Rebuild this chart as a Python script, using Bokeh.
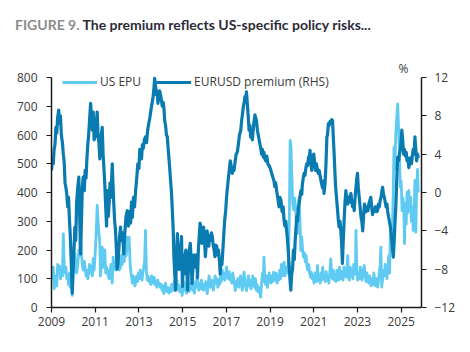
from bokeh.plotting import figure
from bokeh.models import (Range1d, LinearAxis, FixedTicker, Legend, LegendItem, Label, Div)
from bokeh.layouts import column
from bokeh.embed import file_html
from bokeh.resources import INLINE

# ---------------- data ----------------
title_prefix = "FIGURE 9."
title_text = "The premium reflects US-specific policy risks..."
series_names = ["US EPU", "EURUSD premium (RHS)"]
x_ticks = [2009, 2011, 2013, 2015, 2017, 2019, 2021, 2023, 2025]
left_ticks = [0, 100, 200, 300, 400, 500, 600, 700, 800]
right_ticks = [-12, -8, -4, 0, 4, 8, 12]

# EURUSD premium, % (right axis): decimal year, value
prem_t = [2009.00, 2009.04, 2009.08, 2009.12, 2009.16, 2009.20, 2009.24, 2009.28, 2009.33, 2009.37,
          2009.41, 2009.45, 2009.50, 2009.54, 2009.58, 2009.62, 2009.66, 2009.70, 2009.74, 2009.78,
          2009.82, 2009.86, 2009.90, 2009.95, 2009.99, 2010.03, 2010.07, 2010.11, 2010.15, 2010.20,
          2010.25, 2010.29, 2010.33, 2010.37, 2010.41, 2010.45, 2010.50, 2010.54, 2010.58, 2010.62,
          2010.66, 2010.70, 2010.74, 2010.79, 2010.83, 2010.87, 2010.91, 2010.95, 2011.00, 2011.04,
          2011.09, 2011.13, 2011.17, 2011.21, 2011.24, 2011.28, 2011.32, 2011.36, 2011.40, 2011.44,
          2011.48, 2011.52, 2011.55, 2011.60, 2011.64, 2011.68, 2011.72, 2011.78, 2011.82, 2011.85,
          2011.89, 2011.93, 2011.97, 2012.00, 2012.04, 2012.08, 2012.12, 2012.16, 2012.20, 2012.25,
          2012.31, 2012.36, 2012.41, 2012.47, 2012.52, 2012.57, 2012.62, 2012.66, 2012.70, 2012.75,
          2012.80, 2012.85, 2012.90, 2012.95, 2013.00, 2013.04, 2013.08, 2013.12, 2013.16, 2013.20,
          2013.25, 2013.30, 2013.35, 2013.40, 2013.45, 2013.50, 2013.55, 2013.60, 2013.65, 2013.69,
          2013.72, 2013.76, 2013.80, 2013.83, 2013.87, 2013.91, 2013.95, 2013.99, 2014.03, 2014.07,
          2014.11, 2014.14, 2014.18, 2014.22, 2014.26, 2014.30, 2014.34, 2014.37, 2014.41, 2014.45,
          2014.49, 2014.53, 2014.57, 2014.60, 2014.64, 2014.68, 2014.72, 2014.76, 2014.80, 2014.84,
          2014.88, 2014.92, 2014.95, 2014.99, 2015.03, 2015.07, 2015.11, 2015.15, 2015.19, 2015.23,
          2015.27, 2015.31, 2015.35, 2015.39, 2015.43, 2015.47, 2015.51, 2015.55, 2015.60, 2015.64,
          2015.68, 2015.72, 2015.76, 2015.80, 2015.84, 2015.88, 2015.92, 2015.96, 2016.00, 2016.04,
          2016.08, 2016.12, 2016.16, 2016.20, 2016.24, 2016.28, 2016.32, 2016.36, 2016.40, 2016.44,
          2016.48, 2016.52, 2016.56, 2016.60, 2016.64, 2016.68, 2016.72, 2016.76, 2016.80, 2016.84,
          2016.88, 2016.92, 2016.97, 2017.01, 2017.05, 2017.10, 2017.14, 2017.18, 2017.22, 2017.27,
          2017.31, 2017.35, 2017.40, 2017.45, 2017.50, 2017.55, 2017.60, 2017.66, 2017.70, 2017.74,
          2017.78, 2017.81, 2017.85, 2017.89, 2017.92, 2017.96, 2018.00, 2018.04, 2018.08, 2018.11,
          2018.15, 2018.19, 2018.23, 2018.27, 2018.31, 2018.34, 2018.38, 2018.42, 2018.46, 2018.50,
          2018.54, 2018.57, 2018.61, 2018.65, 2018.69, 2018.72, 2018.76, 2018.80, 2018.85, 2018.90,
          2018.95, 2019.00, 2019.05, 2019.10, 2019.14, 2019.18, 2019.22, 2019.26, 2019.30, 2019.35,
          2019.41, 2019.45, 2019.50, 2019.55, 2019.60, 2019.64, 2019.68, 2019.72, 2019.76, 2019.79,
          2019.83, 2019.87, 2019.91, 2019.95, 2019.99, 2020.03, 2020.07, 2020.11, 2020.15, 2020.18,
          2020.22, 2020.26, 2020.30, 2020.33, 2020.37, 2020.41, 2020.45, 2020.48, 2020.52, 2020.56,
          2020.60, 2020.64, 2020.68, 2020.72, 2020.76, 2020.79, 2020.83, 2020.87, 2020.91, 2020.95,
          2021.00, 2021.04, 2021.08, 2021.12, 2021.16, 2021.20, 2021.25, 2021.30, 2021.35, 2021.40,
          2021.44, 2021.47, 2021.52, 2021.56, 2021.60, 2021.63, 2021.67, 2021.70, 2021.74, 2021.78,
          2021.82, 2021.86, 2021.90, 2021.94, 2021.97, 2022.00, 2022.04, 2022.09, 2022.13, 2022.16,
          2022.20, 2022.24, 2022.28, 2022.31, 2022.35, 2022.39, 2022.43, 2022.47, 2022.51, 2022.55,
          2022.59, 2022.63, 2022.67, 2022.70, 2022.74, 2022.78, 2022.82, 2022.85, 2022.89, 2022.93,
          2022.97, 2023.00, 2023.04, 2023.08, 2023.12, 2023.16, 2023.20, 2023.24, 2023.28, 2023.32,
          2023.36, 2023.40, 2023.44, 2023.48, 2023.52, 2023.57, 2023.61, 2023.65, 2023.69, 2023.73,
          2023.77, 2023.81, 2023.84, 2023.88, 2023.92, 2023.96, 2024.00, 2024.04, 2024.08, 2024.12,
          2024.15, 2024.19, 2024.23, 2024.27, 2024.31, 2024.35, 2024.38, 2024.42, 2024.46, 2024.50,
          2024.53, 2024.57, 2024.61, 2024.64, 2024.68, 2024.72, 2024.76, 2024.80, 2024.84, 2024.88,
          2024.92, 2024.96, 2025.00, 2025.03, 2025.07, 2025.11, 2025.15, 2025.19, 2025.23, 2025.27,
          2025.31, 2025.35, 2025.39, 2025.43, 2025.47, 2025.51, 2025.55, 2025.59, 2025.63, 2025.67,
          2025.71, 2025.75, 2025.78]
prem_v = [2.3, 3.5, 3.0, 4.5, 5.0, 6.8, 6.2, 7.8, 8.6, 7.2,
          8.0, 6.0, 5.2, 4.0, 3.2, 1.0, 0.5, -0.2, -1.5, -0.5,
          -2.8, -4.5, -7.0, -10.5, -8.0, -6.0, -3.6, -5.0, -1.0, 0.5,
          1.6, -2.5, -6.4, -3.0, 0.5, 1.6, 0.2, 2.3, 1.5, 3.5,
          5.0, 6.0, 7.5, 9.3, 8.0, 6.5, 8.4, 5.5, 5.8, 7.0,
          8.4, 6.0, 5.2, 3.5, 4.7, 6.0, 6.8, 4.0, 2.5, 0.8,
          -1.5, -3.5, 0.2, -2.5, -1.0, 1.0, -0.5, 3.0, 0.5, -1.2,
          -3.0, -4.0, -6.0, -8.0, -7.5, -6.0, -4.5, -3.6, -5.0, -4.2,
          -6.4, -4.0, -2.5, -1.9, -3.5, -2.0, -3.2, -1.0, -2.6, -0.5,
          -1.5, 0.2, 1.5, 3.0, 2.5, 4.5, 4.0, 3.5, 5.0, 4.6,
          5.5, 5.8, 5.2, 6.5, 7.2, 7.8, 8.6, 9.3, 10.0, 11.0,
          11.9, 11.2, 10.2, 10.6, 9.3, 10.0, 10.6, 10.2, 9.6, 9.0,
          9.4, 8.9, 7.5, 7.0, 6.0, 5.8, 4.5, 3.7, 2.5, 1.2,
          0.0, -1.9, -4.0, -6.7, -8.5, -10.2, -6.5, -4.3, -8.0, -6.0,
          -8.0, -5.5, -4.6, -9.8, -7.5, -8.5, -6.5, -6.0, -8.0, -10.2,
          -7.5, -6.0, -5.3, -7.0, -9.5, -8.0, -6.5, -7.5, -7.8, -6.5,
          -8.9, -6.0, -4.5, -3.2, -4.0, -5.3, -4.5, -3.6, -5.0, -6.7,
          -5.5, -4.0, -4.8, -5.6, -4.5, -5.0, -4.2, -4.6, -5.5, -6.0,
          -6.7, -5.5, -5.6, -6.5, -6.0, -7.0, -8.5, -7.0, -7.5, -6.0,
          -4.5, -3.0, -1.9, -0.5, 0.5, 1.6, 2.5, 3.3, 2.8, 2.0,
          2.5, 2.3, 3.2, 4.0, 4.2, 5.0, 6.0, 6.5, 7.5, 8.2,
          9.0, 9.3, 10.0, 9.8, 10.5, 9.3, 8.0, 6.5, 7.0, 5.8,
          6.2, 5.5, 6.5, 7.5, 8.1, 7.8, 7.5, 6.5, 6.0, 5.5,
          5.0, 4.7, 4.0, 4.5, 3.7, 4.2, 3.5, 3.3, 3.8, 3.0,
          2.8, 2.6, 2.2, 1.8, 1.5, 1.2, 0.6, 1.0, 0.2, -0.5,
          -1.5, -0.5, -0.8, -2.0, -1.5, -2.9, -3.5, -3.0, -4.0, -4.7,
          -6.0, -7.5, -9.0, -10.2, -8.5, -8.0, -6.0, -7.0, -5.0, -4.0,
          -2.5, -3.0, -1.5, -1.2, -0.5, 0.2, -0.2, 0.9, 1.5, 2.0,
          1.8, 2.6, 3.0, 2.8, 3.7, 3.5, 4.4, 3.0, 2.3, 3.5,
          4.0, 3.2, 2.3, 3.0, 2.5, 2.0, 2.3, 1.6, 1.0, 0.5,
          1.2, -0.1, 1.0, 3.0, 5.8, 6.0, 7.2, 7.0, 7.4, 7.2,
          7.6, 7.5, 5.5, 3.7, 2.0, 0.6, -0.5, -1.9, -3.0, -3.6,
          -3.0, -4.0, -5.5, -7.4, -5.0, -2.9, -1.0, 0.2, -0.8, -1.2,
          -0.5, -1.0, -0.3, -0.1, -1.0, -1.5, -1.0, -1.9, -0.5, 0.5,
          1.5, 2.0, 0.5, -0.5, -1.5, -2.5, -3.0, -4.0, -2.5, -1.2,
          -1.5, -2.0, -1.6, -1.9, -1.2, -0.8, -0.5, -1.5, -2.3, -1.8,
          -2.0, -1.5, -1.5, -2.0, -1.9, -1.2, -1.5, -0.8, -0.5, 0.2,
          0.55, -0.2, -0.5, -1.0, -1.5, -1.2, -1.9, -2.5, -3.0, -3.5,
          -4.0, -5.0, -6.0, -6.75, -5.0, -3.0, -1.2, 1.5, 3.7, 3.3,
          4.0, 4.5, 5.5, 6.5, 5.5, 4.0, 4.5, 3.8, 4.2, 3.3,
          3.6, 2.6, 3.2, 3.6, 3.0, 3.8, 4.5, 4.0, 5.8, 4.5,
          3.3, 4.0, 3.6]

# US economic policy uncertainty index (left axis): decimal year, value
epu_t = [2009.00, 2009.04, 2009.08, 2009.12, 2009.16, 2009.20, 2009.24, 2009.28, 2009.33, 2009.37,
         2009.41, 2009.45, 2009.50, 2009.54, 2009.58, 2009.62, 2009.66, 2009.70, 2009.74, 2009.78,
         2009.82, 2009.86, 2009.90, 2009.95, 2009.99, 2010.03, 2010.07, 2010.11, 2010.15, 2010.20,
         2010.25, 2010.29, 2010.33, 2010.37, 2010.41, 2010.45, 2010.50, 2010.54, 2010.58, 2010.62,
         2010.66, 2010.70, 2010.74, 2010.79, 2010.83, 2010.87, 2010.91, 2010.95, 2011.00, 2011.04,
         2011.09, 2011.13, 2011.17, 2011.21, 2011.24, 2011.28, 2011.32, 2011.36, 2011.40, 2011.44,
         2011.48, 2011.52, 2011.56, 2011.60, 2011.64, 2011.68, 2011.72, 2011.78, 2011.82, 2011.86,
         2011.90, 2011.94, 2011.98, 2012.02, 2012.06, 2012.10, 2012.16, 2012.20, 2012.24, 2012.28,
         2012.33, 2012.37, 2012.42, 2012.47, 2012.51, 2012.55, 2012.60, 2012.64, 2012.68, 2012.70,
         2012.74, 2012.78, 2012.82, 2012.86, 2012.90, 2012.94, 2012.98, 2013.02, 2013.06, 2013.10,
         2013.14, 2013.18, 2013.22, 2013.26, 2013.30, 2013.34, 2013.38, 2013.42, 2013.46, 2013.50,
         2013.54, 2013.58, 2013.62, 2013.66, 2013.70, 2013.74, 2013.78, 2013.82, 2013.86, 2013.90,
         2013.94, 2013.98, 2014.02, 2014.06, 2014.10, 2014.14, 2014.18, 2014.22, 2014.26, 2014.30,
         2014.34, 2014.38, 2014.42, 2014.46, 2014.50, 2014.54, 2014.58, 2014.62, 2014.66, 2014.70,
         2014.74, 2014.78, 2014.82, 2014.86, 2014.90, 2014.94, 2014.98, 2015.02, 2015.06, 2015.10,
         2015.14, 2015.18, 2015.22, 2015.26, 2015.30, 2015.34, 2015.38, 2015.42, 2015.46, 2015.50,
         2015.54, 2015.58, 2015.62, 2015.66, 2015.70, 2015.74, 2015.78, 2015.82, 2015.86, 2015.90,
         2015.94, 2015.98, 2016.02, 2016.06, 2016.10, 2016.13, 2016.17, 2016.21, 2016.25, 2016.29,
         2016.33, 2016.37, 2016.41, 2016.45, 2016.49, 2016.53, 2016.57, 2016.61, 2016.65, 2016.69,
         2016.73, 2016.77, 2016.81, 2016.85, 2016.89, 2016.93, 2016.97, 2017.01, 2017.05, 2017.09,
         2017.13, 2017.17, 2017.21, 2017.25, 2017.29, 2017.33, 2017.37, 2017.41, 2017.45, 2017.49,
         2017.53, 2017.57, 2017.61, 2017.65, 2017.69, 2017.73, 2017.77, 2017.81, 2017.85, 2017.89,
         2017.93, 2017.97, 2018.01, 2018.05, 2018.09, 2018.13, 2018.17, 2018.21, 2018.25, 2018.29,
         2018.33, 2018.37, 2018.41, 2018.45, 2018.49, 2018.53, 2018.57, 2018.61, 2018.65, 2018.69,
         2018.72, 2018.76, 2018.80, 2018.84, 2018.88, 2018.92, 2018.96, 2019.00, 2019.04, 2019.08,
         2019.12, 2019.16, 2019.20, 2019.24, 2019.28, 2019.32, 2019.36, 2019.40, 2019.44, 2019.48,
         2019.52, 2019.56, 2019.60, 2019.64, 2019.68, 2019.72, 2019.76, 2019.80, 2019.84, 2019.88,
         2019.92, 2019.96, 2020.00, 2020.04, 2020.08, 2020.12, 2020.16, 2020.20, 2020.25, 2020.29,
         2020.33, 2020.37, 2020.41, 2020.45, 2020.49, 2020.53, 2020.57, 2020.61, 2020.65, 2020.69,
         2020.73, 2020.77, 2020.81, 2020.85, 2020.89, 2020.93, 2020.97, 2021.01, 2021.05, 2021.09,
         2021.13, 2021.17, 2021.21, 2021.25, 2021.29, 2021.33, 2021.37, 2021.41, 2021.45, 2021.49,
         2021.53, 2021.57, 2021.61, 2021.65, 2021.69, 2021.73, 2021.78, 2021.82, 2021.86, 2021.90,
         2021.94, 2021.98, 2022.02, 2022.06, 2022.10, 2022.14, 2022.18, 2022.22, 2022.26, 2022.30,
         2022.34, 2022.38, 2022.42, 2022.46, 2022.50, 2022.55, 2022.59, 2022.63, 2022.67, 2022.71,
         2022.75, 2022.79, 2022.83, 2022.87, 2022.91, 2022.93, 2022.97, 2023.01, 2023.05, 2023.09,
         2023.13, 2023.17, 2023.21, 2023.25, 2023.31, 2023.35, 2023.39, 2023.43, 2023.47, 2023.51,
         2023.55, 2023.59, 2023.63, 2023.67, 2023.71, 2023.75, 2023.79, 2023.83, 2023.87, 2023.92,
         2023.96, 2024.00, 2024.04, 2024.07, 2024.11, 2024.15, 2024.19, 2024.23, 2024.27, 2024.31,
         2024.35, 2024.39, 2024.43, 2024.47, 2024.51, 2024.55, 2024.59, 2024.63, 2024.67, 2024.71,
         2024.75, 2024.79, 2024.84, 2024.88, 2024.92, 2024.96, 2025.00, 2025.04, 2025.08, 2025.12,
         2025.15, 2025.19, 2025.23, 2025.27, 2025.31, 2025.35, 2025.39, 2025.43, 2025.47, 2025.51,
         2025.55, 2025.59, 2025.63, 2025.67, 2025.71, 2025.75, 2025.78]
epu_v = [135, 100, 140, 65, 80, 110, 75, 150, 120, 145,
         100, 130, 110, 256, 150, 120, 140, 100, 110, 80,
         120, 70, 90, 42, 120, 150, 187, 140, 120, 150,
         200, 180, 268, 187, 150, 130, 160, 139, 110, 130,
         100, 120, 150, 140, 120, 110, 170, 130, 190, 250,
         355, 300, 260, 222, 110, 150, 210, 140, 160, 200,
         120, 140, 130, 110, 100, 130, 150, 85, 175, 140,
         160, 130, 150, 140, 170, 130, 140, 180, 150, 200,
         160, 210, 180, 245, 200, 245, 150, 120, 100, 85,
         110, 90, 75, 95, 110, 90, 120, 100, 130, 110,
         95, 120, 140, 160, 268, 130, 95, 110, 90, 100,
         80, 110, 95, 85, 105, 80, 90, 70, 95, 75,
         85, 70, 80, 60, 75, 48, 70, 85, 60, 55,
         70, 50, 65, 55, 80, 60, 70, 90, 60, 75,
         95, 65, 80, 55, 70, 60, 42, 70, 90, 60,
         80, 50, 95, 70, 55, 85, 65, 100, 60, 75,
         50, 90, 70, 110, 75, 60, 85, 65, 95, 70,
         60, 80, 65, 90, 60, 48, 75, 110, 85, 70,
         95, 75, 60, 90, 110, 85, 100, 70, 95, 80,
         110, 90, 130, 100, 120, 95, 110, 140, 115, 100,
         125, 95, 110, 85, 120, 105, 80, 59, 90, 75,
         100, 70, 95, 110, 80, 60, 90, 123, 95, 70,
         59, 85, 110, 75, 95, 65, 80, 110, 90, 70,
         100, 60, 80, 55, 70, 50, 36, 80, 120, 90,
         175, 100, 80, 110, 70, 95, 120, 100, 85, 110,
         90, 123, 100, 95, 120, 85, 110, 95, 130, 100,
         150, 110, 130, 158, 110, 140, 120, 130, 160, 300,
         581, 557, 450, 360, 340, 380, 350, 300, 257, 360,
         383, 300, 198, 245, 200, 175, 190, 160, 180, 140,
         130, 150, 120, 105, 123, 100, 110, 85, 120, 100,
         90, 146, 95, 110, 85, 120, 95, 140, 100, 110,
         90, 125, 95, 105, 85, 120, 169, 110, 100, 130,
         95, 115, 90, 130, 105, 95, 140, 110, 100, 125,
         95, 140, 110, 130, 105, 180, 120, 95, 140, 110,
         130, 100, 150, 115, 130, 268, 130, 95, 120, 100,
         140, 110, 95, 125, 146, 110, 90, 120, 100, 85,
         110, 95, 75, 100, 80, 120, 90, 75, 100, 71,
         90, 120, 150, 210, 71, 100, 129, 110, 150, 120,
         100, 140, 180, 120, 268, 200, 268, 372, 557, 480,
         600, 650, 708, 627, 535, 419, 440, 337, 380, 349,
         222, 361, 290, 400, 330, 407, 337, 384, 300, 350,
         268, 320, 442, 262, 419, 480, 400]

# ---------------- styles ----------------
LIGHT = "#5fcbf3"
DARK = "#0a7bb1"
FONT = "Open Sans"
TXT = "#3a3a3a"
HEAD_H = 50
FRAME_TOP = 58          # page pixel of the (invisible) frame top; the 800 / 12 line sits at 77
PX_PER_LEFT = 230 / 800.0
PX_PER_RIGHT = 230 / 24.0
left_top = 800 + (77 - FRAME_TOP) / PX_PER_LEFT
right_top = 12 + (77 - FRAME_TOP) / PX_PER_RIGHT

head = Div(text=('<div style="padding:17px 0 0 15px; font-family:Lato, sans-serif; font-weight:bold; '
                 'font-size:14px; line-height:16px; color:#2b2b38; white-space:nowrap;">'
                 '<span style="color:#8c8c8c;">' + title_prefix + '</span> ' + title_text + '</div>'),
           width=470, height=HEAD_H, margin=(0, 0, 0, 0))

p = figure(width=470, height=352 - HEAD_H, output_backend="svg", toolbar_location=None,
           x_range=Range1d(2009, 2025.93), y_range=Range1d(0, left_top),
           min_border_left=51, min_border_right=49, min_border_top=FRAME_TOP - HEAD_H,
           min_border_bottom=45, margin=(0, 0, 0, 0))
p.outline_line_color = None
p.xgrid.visible = False
p.ygrid.visible = False
p.background_fill_color = "white"
p.border_fill_color = "white"

p.extra_y_ranges = {"rhs": Range1d(-12, right_top)}

r_epu = p.line(epu_t, epu_v, line_color=LIGHT, line_width=2.8, line_join="round")
r_prem = p.line(prem_t, prem_v, line_color=DARK, line_width=3.2, line_join="round",
                y_range_name="rhs")

rax = LinearAxis(y_range_name="rhs")
p.add_layout(rax, "right")

for ax in [p.xaxis[0], p.yaxis[0], rax]:
    ax.axis_line_color = "#1a1a1a"
    ax.axis_line_width = 1.5
    ax.major_tick_line_color = "#1a1a1a"
    ax.major_tick_line_width = 1.2
    ax.major_tick_in = 0
    ax.major_tick_out = 5
    ax.minor_tick_line_color = None
    ax.major_label_text_font = FONT
    ax.major_label_text_font_size = "12px"
    ax.major_label_text_color = TXT

p.xaxis[0].ticker = FixedTicker(ticks=x_ticks)
p.xaxis[0].major_label_standoff = 4
p.yaxis[0].ticker = FixedTicker(ticks=left_ticks)
p.yaxis[0].major_label_standoff = 9
p.yaxis[0].bounds = (0, 800)
rax.ticker = FixedTicker(ticks=right_ticks)
rax.major_label_standoff = 8
rax.bounds = (-12, 12)

legend = Legend(items=[LegendItem(label=series_names[0], renderers=[r_epu]),
                       LegendItem(label=series_names[1], renderers=[r_prem])],
                orientation="horizontal", location=(11, 217),
                glyph_width=35, glyph_height=14, label_height=14,
                label_standoff=3, spacing=15, padding=0, margin=0,
                border_line_color=None, background_fill_alpha=0,
                label_text_font=FONT, label_text_font_size="12px",
                label_text_color=TXT)
p.add_layout(legend, "center")

p.add_layout(Label(x=352, y=239, x_units="screen", y_units="screen", text="%",
                   text_font=FONT, text_font_size="12px", text_color=TXT,
                   text_align="center", text_baseline="middle"))

open("out.html", "w").write(file_html(column(head, p, spacing=0), INLINE))
